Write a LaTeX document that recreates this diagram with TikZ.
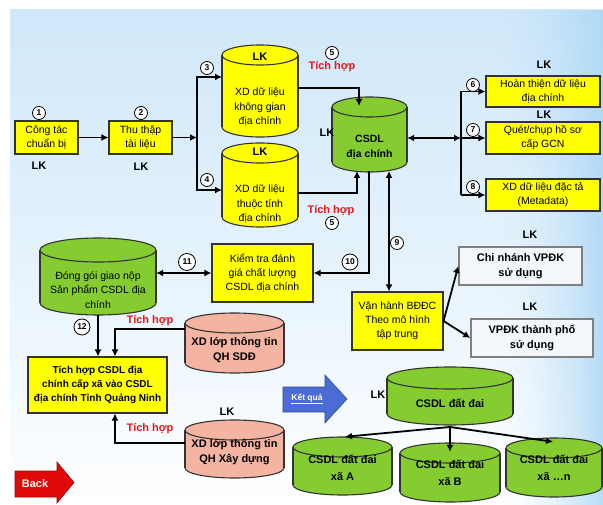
\documentclass[tikz,border=0pt]{standalone}
\usepackage{fontspec}
\setmainfont{Liberation Sans}
\usetikzlibrary{arrows.meta,calc}
\definecolor{ylw}{HTML}{FFFF00}
\definecolor{grn}{HTML}{84CC30}
\definecolor{pnk}{HTML}{F4B4A2}
\definecolor{bgb}{HTML}{D0E8FA}
\definecolor{bgr}{HTML}{ABD6F5}
\definecolor{redt}{HTML}{E81818}
\definecolor{backred}{HTML}{E00808}
\definecolor{kqblue}{HTML}{4A6CD4}
\definecolor{wbox}{HTML}{F3F7FB}
\newcommand\dbcyl[7]{% name, xl, xr, ytop, ybot, ry, fill
  \pgfmathsetmacro\cxc{(#2+#3)/2}\pgfmathsetmacro\crx{(#3-#2)/2}%
  \pgfmathsetmacro\cyt{#4+#6}\pgfmathsetmacro\cyb{#5-#6}%
  \filldraw[fill=#7,cylline] (\cxc,\cyb) ellipse [x radius=\crx, y radius=#6];
  \fill[#7] (#2,\cyt) rectangle (#3,\cyb);
  \draw[cylline] (#2,\cyt) -- (#2,\cyb) (#3,\cyt) -- (#3,\cyb);
  \filldraw[fill=#7,cylline] (\cxc,\cyt) ellipse [x radius=\crx, y radius=#6];
  \node[inner sep=0, minimum width={#3-#2}, minimum height={#5-#4}] (#1) at (\cxc,{(#4+#5)/2}) {};
}
\begin{document}
\begin{tikzpicture}[x=1pt,y=-1pt,
  cylline/.style={draw=black!80, line width=1.1pt},
  ybox/.style={draw=black!80, line width=1.1pt, fill=ylw, align=center, inner sep=1pt, font=\fontsize{10.5}{14}\selectfont},
  wbx/.style={draw=black!50, line width=1.4pt, fill=wbox, align=center, inner sep=1pt, font=\bfseries\fontsize{11}{15}\selectfont},
  txt/.style={align=center, inner sep=0, font=\fontsize{10.5}{14.5}\selectfont},
  btxt/.style={align=center, inner sep=0, font=\bfseries\fontsize{11}{15}\selectfont},
  lk/.style={inner sep=0, font=\bfseries\fontsize{11}{12}\selectfont},
  th/.style={inner sep=0, text=redt, font=\bfseries\fontsize{11}{12}\selectfont},
  num/.style={circle, draw, line width=0.8pt, fill=white, inner sep=0pt, minimum size=13pt, font=\bfseries\fontsize{8.5}{9}\selectfont},
  arr/.style={line width=1.8pt, -{Latex[length=7pt,width=7pt]}},
  darr/.style={line width=1.8pt, {Latex[length=7pt,width=7pt]}-{Latex[length=7pt,width=7pt]}},
  ln/.style={line width=1.8pt}
]
\useasboundingbox (0,0) rectangle (603,505);
\fill[white] (0,0) rectangle (603,505);
\shade[top color=bgb, bottom color=white, middle color=bgb!55] (10,10) rectangle (603,505);
\foreach \i in {0,...,39}{
  \pgfmathsetmacro\op{0.85*(\i/39)^1.6}
  \fill[bgr, fill opacity=\op] ({500+\i*2.6},10) rectangle ({500+(\i+1)*2.6},505);
}

% ---- boxes
\node[ybox, minimum width=63pt, minimum height=33pt] (b1) at (46.5,137.5) {Công tác\\chuẩn bị};
\node[ybox, minimum width=63pt, minimum height=33pt] (b2) at (140.5,137.5) {Thu thập\\tài liệu};
\node[ybox, minimum width=114pt, minimum height=31pt] (b6) at (543,91.5) {Hoàn thiện dữ liệu\\địa chính};
\node[ybox, minimum width=114pt, minimum height=32pt] (b7) at (543,138) {Quét/chụp hồ sơ\\cấp GCN};
\node[ybox, minimum width=114pt, minimum height=32pt] (b8) at (543,195) {XD dữ liệu đặc tả\\(Metadata)};
\node[ybox, minimum width=101pt, minimum height=58pt] (kt) at (262.5,273) {Kiểm tra đánh\\giá chất lượng\\CSDL địa chính};
\node[ybox, minimum width=91pt, minimum height=58pt] (vh) at (397.5,321) {Vận hành BĐĐC\\Theo mô hình\\tập trung};
\node[ybox, minimum width=139pt, minimum height=56pt, font=\bfseries\fontsize{10}{14}\selectfont] (thb) at (97.5,385) {Tích hợp CSDL địa\\chính cấp xã vào CSDL\\địa chính Tỉnh Quảng Ninh};
\node[wbx, minimum width=123pt, minimum height=38pt] (cn) at (520.5,266) {Chi nhánh VPĐK\\sử dụng};
\node[wbx, minimum width=122pt, minimum height=38pt] (tp) at (532,338) {VPĐK thành phố\\sử dụng};

% ---- cylinders
\dbcyl{c1}{222}{298}{45}{137}{10}{ylw}
\dbcyl{c2}{222}{298}{143}{227}{10}{ylw}
\dbcyl{csdl}{332}{407}{97}{172}{10}{grn}
\dbcyl{dg}{40}{156}{238}{315}{12}{grn}
\dbcyl{p1}{185}{284}{313}{373}{10}{pnk}
\dbcyl{p2}{185}{284}{420}{478}{10}{pnk}
\dbcyl{dd}{387}{513}{367}{425}{11}{grn}
\dbcyl{ca}{293}{392}{437}{495}{10}{grn}
\dbcyl{cb}{400}{500}{443}{502}{10}{grn}
\dbcyl{cx}{506}{602}{438}{497}{10}{grn}

\node[lk] (lkc1) at (260,57) {LK};
\node[txt] (tc1) at (260,107) {XD dữ liệu\\không gian\\địa chính};
\node[lk] (lkc2) at (260,152) {LK};
\node[txt] (tc2) at (260,204) {XD dữ liệu\\thuộc tính\\địa chính};
\node[btxt, font=\bfseries\fontsize{10.5}{15}\selectfont] (tcs) at (369.5,147) {CSDL\\địa chính};
\node[txt] (tdg) at (98,290) {Đóng gói giao nộp\\Sản phẩm CSDL địa\\chính};
\node[btxt] (tp1) at (234.5,350) {XD lớp thông tin\\QH SDĐ};
\node[btxt] (tp2) at (234.5,452) {XD lớp thông tin\\QH Xây dựng};
\node[btxt] (tdd) at (450,403) {CSDL đất đai};
\node[btxt, font=\bfseries\fontsize{11}{17}\selectfont] (tca) at (342.5,468) {CSDL đất đai\\xã A};
\node[btxt, font=\bfseries\fontsize{11}{17}\selectfont] (tcb) at (450,473) {CSDL đất đai\\xã B};
\node[btxt, font=\bfseries\fontsize{11}{17}\selectfont] (tcx) at (554,468) {CSDL đất đai\\xã …n};

% ---- LK labels
\node[lk] (lk1) at (39,166) {LK};
\node[lk] (lk2) at (141,167) {LK};
\node[lk] (lkcs) at (327,133) {LK};
\node[lk] (lk6) at (544,65) {LK};
\node[lk] (lk7) at (544,115) {LK};
\node[lk] (lkcn) at (530,235) {LK};
\node[lk] (lktp) at (530,307) {LK};
\node[lk] (lkp2) at (227,412) {LK};
\node[lk] (lkdd) at (378,395) {LK};

% ---- Tich hop labels
\node[th] (th1) at (332,67) {Tích hợp};
\node[th] (th2) at (331,211) {Tích hợp};
\node[th] (th3) at (150,321) {Tích hợp};
\node[th] (th4) at (150,429) {Tích hợp};

% ---- connectors
\draw[arr] (b1) -- (b2);
\coordinate (J1) at (197,137.5);
\coordinate (e3) at (222,77);
\coordinate (e4) at (222,190);
\draw[arr] (b2) -- (J1);
\draw[arr] (J1) |- (e3);
\draw[arr] (J1) |- (e4);

\coordinate (t5a) at (359,106);
\coordinate (t5b) at (357,171);
\draw[arr] ($(c1.east)+(0,-3)$) -| (t5a);
\draw[arr] ($(c2.east)+(0,8)$) -| (t5b);

\coordinate (J2) at (461,138);
\draw[darr] (csdl.east |- J2) -- (J2);
\draw[ln] (461,91.5) -- (461,195);
\draw[arr] (J2 |- b6.west) -- (b6.west);
\draw[arr] (J2) -- (b7.west);
\draw[arr] (J2 |- b8.west) -- (b8.west);

\coordinate (s10) at (369,171);
\draw[arr] (s10) |- (kt.east);
\coordinate (s9) at (389,171);
\draw[darr] (s9) -- (s9 |- vh.north);

\draw[darr] (dg.east |- kt.west) -- (kt.west);
\draw[arr] (dg.south) -- (dg.south |- thb.north);
\draw[arr] ($(p1.west)+(0,-14)$) -| ($(thb.north)+(17.5,0)$);
\draw[arr] ($(p2.west)+(0,-6)$) -| ($(thb.south)+(17.5,0)$);

\draw[arr] (vh.east) -- (cn.west);
\draw[arr] (vh.east) -- (tp.west);

\coordinate (sdd) at (450,427);
\draw[arr] (sdd) -- ($(ca.north)+(2.5,0)$);
\draw[arr] (sdd) -- ($(cb.north)+(0,9)$);
\draw[arr] (sdd) -- ($(cx.north)+(-1,4)$);

% ---- number circles
\node[num] (n1) at (39,113) {1};
\node[num] (n2) at (141,113) {2};
\node[num] (n3) at (207,68) {3};
\node[num] (n4) at (207,180) {4};
\node[num] (n5a) at (332,53) {5};
\node[num] (n5b) at (332,223) {5};
\node[num] (n6) at (473,85) {6};
\node[num] (n7) at (473,130) {7};
\node[num] (n8) at (473,187) {8};
\node[num] (n9) at (397,243) {9};
\node[num, minimum size=16pt] (n10) at (350,262) {10};
\node[num, minimum size=17pt] (n11) at (187,262) {11};
\node[num, minimum size=16pt] (n12) at (82,327) {12};

% ---- block arrows
\filldraw[fill=backred, draw=backred!70!black, line width=0.6pt] (15,471) -- (57,471) -- (57,462) -- (74,482.5) -- (57,503) -- (57,497) -- (15,497) -- cycle;
\node[inner sep=0, text=white, font=\bfseries\fontsize{11}{12}\selectfont] (back) at (35,484) {Back};
\filldraw[fill=kqblue, draw=kqblue!70!black, line width=0.6pt] (283,387) -- (325,387) -- (325,375) -- (347,399) -- (325,423) -- (325,412) -- (283,412) -- cycle;
\node[inner sep=0, text=white, font=\bfseries\fontsize{8.5}{10}\selectfont] (kq) at (307,399) {\underline{Kết quả}};
\end{tikzpicture}
\end{document}
